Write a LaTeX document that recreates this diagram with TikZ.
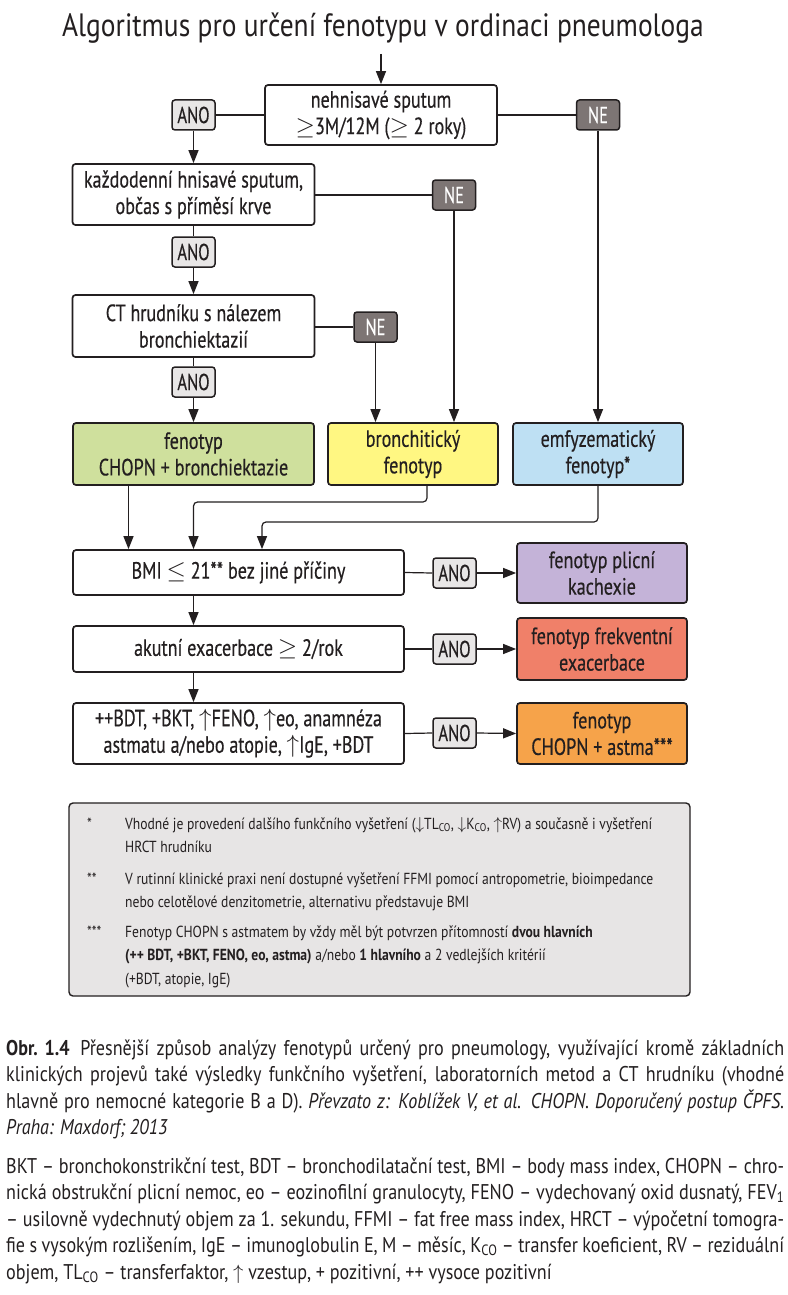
\documentclass[tikz,border=0pt]{standalone}
\usepackage{fontspec}
\setmainfont{PT Sans}[FakeStretch=0.85]
\newfontfamily\boxf{PT Sans}[FakeStretch=0.77,FakeBold=0.4]
\newfontfamily\labf{PT Sans}[FakeStretch=0.72,FakeBold=0.4]
\usetikzlibrary{arrows.meta,calc}
\definecolor{lc}{RGB}{35,31,32}
\definecolor{anof}{RGB}{232,230,230}
\definecolor{nef}{RGB}{125,117,116}
\definecolor{cgreen}{RGB}{207,224,157}
\definecolor{cyellow}{RGB}{255,247,130}
\definecolor{cblue}{RGB}{190,224,243}
\definecolor{cpurple}{RGB}{196,179,216}
\definecolor{csalmon}{RGB}{240,128,105}
\definecolor{corange}{RGB}{246,163,74}
\definecolor{notef}{RGB}{231,229,229}
\newcommand{\uar}{\smash{\ensuremath{\uparrow}}}
\newcommand{\dar}{\smash{\ensuremath{\downarrow}}}
\newcommand{\mge}{\smash{\ensuremath{\geq}}}
\newcommand{\mle}{\smash{\ensuremath{\leq}}}
\newcommand{\jline}[1]{\hbox to 778pt{#1}}
\begin{document}
\begin{tikzpicture}[x=1pt,y=-1pt,
  box/.style={draw=lc, line width=1.7pt, rounded corners=3pt, align=center, inner sep=0pt, text=lc,
    font=\boxf\fontsize{23.5}{26.5}\selectfont},
  ano/.style={draw=lc, line width=1.5pt, rounded corners=3pt, fill=anof, inner sep=0pt, text=lc,
    minimum width=43pt, minimum height=30pt, font=\labf\fontsize{23}{23}\selectfont},
  ne/.style={ano, fill=nef, text=white},
  arr/.style={-{Triangle[length=13pt,width=10pt]}, line width=1.2pt, draw=lc},
  ln/.style={line width=1.2pt, draw=lc},
  notetxt/.style={anchor=base west, inner sep=0pt, text=lc, font=\fontsize{16}{23.5}\selectfont},
  captxt/.style={anchor=base west, inner sep=0pt, text=lc, font=\fontsize{21.3}{26.5}\selectfont}
]
\useasboundingbox (0,0) rectangle (787,1295);
\fill[white] (0,0) rectangle (787,1295);

% title
\node[anchor=base, inner sep=0pt, text=lc, font=\fontsize{32.3}{32}\selectfont] (title) at (383,37)
  {Algoritmus pro určení fenotypu v ordinaci pneumologa};

% flow boxes
\node[box, minimum width=232pt, minimum height=60pt] (b1) at (381,115)
  {nehnisavé sputum\\\mge3M/12M (\mge{} 2 roky)};
\node[ano] (a1) at (193.5,115) {ANO};
\node[ne] (n1) at (598,115) {NE};

\node[box, minimum width=242pt, minimum height=61pt] (b2) at (193.5,194.5)
  {každodenní hnisavé sputum,\\občas s příměsí krve};
\node[ne] (n2) at (454,195) {NE};
\node[ano] (a2) at (193.5,252) {ANO};

\node[box, minimum width=242pt, minimum height=62pt] (b3) at (193.5,326)
  {CT hrudníku s nálezem\\bronchiektazií};
\node[ne] (n3) at (375.5,327) {NE};
\node[ano] (a3) at (193.5,382) {ANO};

\node[box, fill=cgreen, minimum width=241pt, minimum height=62pt] (pg) at (193.5,454)
  {fenotyp\\CHOPN + bronchiektazie};
\node[box, fill=cyellow, minimum width=170pt, minimum height=62pt] (py) at (413,454)
  {bronchitický\\fenotyp};
\node[box, fill=cblue, minimum width=170pt, minimum height=62pt] (pb) at (598,454)
  {emfyzematický\\fenotyp*};

\node[box, minimum width=331pt, minimum height=45pt] (bmi) at (238.5,572.5)
  {BMI \mle{} 21** bez jiné příčiny};
\node[ano] (a4) at (454.5,573) {ANO};
\node[box, fill=cpurple, minimum width=170pt, minimum height=60pt] (pp) at (602,573)
  {fenotyp plicní\\kachexie};

\node[box, minimum width=331pt, minimum height=46pt] (ak) at (238.5,649)
  {akutní exacerbace \mge{} 2/rok};
\node[ano] (a5) at (454.5,649) {ANO};
\node[box, fill=csalmon, minimum width=170pt, minimum height=62pt] (ps) at (602,649)
  {fenotyp frekventní\\exacerbace};

\node[box, minimum width=331pt, minimum height=61pt] (b7) at (238.5,733.5)
  {++BDT, +BKT, \uar FENO, \uar eo, anamnéza\\astmatu a/nebo atopie, \uar IgE, +BDT};
\node[ano] (a6) at (454.5,733) {ANO};
\node[box, fill=corange, minimum width=170pt, minimum height=61pt] (po) at (602,733.5)
  {fenotyp\\CHOPN + astma***};

% connectors
\coordinate (start) at (381,54);
\draw[arr] (start) -- (b1.north);
\draw[ln] (b1.west) -- (a1.east);
\draw[ln] (b1.east) -- (n1.west);
\draw[arr] (a1.south) -- (a1.south |- b2.north);
\draw[arr] (n1.south) -- (n1.south |- pb.north);

\draw[ln] (b2.south) -- (a2.north);
\draw[arr] (a2.south) -- (b3.north);
\draw[ln] (b2.east |- n2.west) -- (n2.west);
\draw[arr] (n2.south) -- (n2.south |- py.north);

\draw[ln] (b3.south) -- (a3.north);
\draw[arr] (a3.south) -- (pg.north);
\draw[ln] (b3.east |- n3.west) -- (n3.west);
\draw[arr] (n3.south) -- (n3.south |- py.north);

\coordinate (ya) at (193.5,502);
\coordinate (ba) at (262,522);
\draw[arr] ([xshift=-65pt]pg.south) -- ([xshift=-65pt]pg.south |- bmi.north);
\draw[arr, rounded corners=4pt] ([xshift=14pt]py.south) |- (ya) -- (ya |- bmi.north);
\draw[arr, rounded corners=4pt] (pb.south) |- (ba) -- (ba |- bmi.north);

\draw[ln] (bmi.east) -- (a4.west);
\draw[arr] (a4.east) -- (pp.west);
\draw[arr] ([xshift=-45pt]bmi.south) -- ([xshift=-45pt]ak.north);

\draw[ln] (ak.east) -- (a5.west);
\draw[arr] (a5.east) -- (ps.west);
\draw[arr] ([xshift=-45pt]ak.south) -- ([xshift=-45pt]b7.north);

\draw[ln] (b7.east) -- (a6.west);
\draw[arr] (a6.east) -- (po.west);

% notes box
\draw[draw=lc, fill=notef, line width=1.4pt, rounded corners=4pt] (69,803) rectangle (690,996);
\node[notetxt] (m1) at (87,829) {*};
\node[notetxt] (t1) at (125,829) {\vtop{\hbox{Vhodné je provedení dalšího funkčního vyšetření (\dar TL\textsubscript{CO}, \dar K\textsubscript{CO}, \uar RV) a současně i vyšetření}\hbox{HRCT hrudníku}}};
\node[notetxt] (m2) at (87,884) {**};
\node[notetxt] (t2) at (125,884) {\vtop{\hbox{V rutinní klinické praxi není dostupné vyšetření FFMI pomocí antropometrie, bioimpedance}\hbox{nebo celotělové denzitometrie, alternativu představuje BMI}}};
\node[notetxt] (m3) at (87,937) {***};
\node[notetxt] (t3) at (125,937) {\vtop{\hbox{Fenotyp CHOPN s astmatem by vždy měl být potvrzen přítomností \textbf{dvou hlavních}}\hbox{\textbf{(++ BDT, +BKT, FENO, eo, astma)} a/nebo \textbf{1 hlavního} a 2 vedlejších kritérií}\hbox{(+BDT, atopie, IgE)}}};

% caption
\node[captxt] (cap) at (6,1055) {\vtop{%
\jline{\textbf{Obr.~1.4}\enspace Přesnější způsob analýzy fenotypů určený pro pneumology, využívající kromě základních}
\jline{klinických projevů také výsledky funkčního vyšetření, laboratorních metod a CT hrudníku (vhodné}
\jline{hlavně pro nemocné kategorie B a D). \textit{Převzato z: Koblížek V, et al. CHOPN. Doporučený postup ČPFS.}}
\hbox{\textit{Praha: Maxdorf; 2013}}}};

% abbreviations
\node[captxt] (abbr) at (6,1173) {\vtop{%
\jline{BKT – bronchokonstrikční test, BDT – bronchodilatační test, BMI – body mass index, CHOPN – chro-}
\jline{nická obstrukční plicní nemoc, eo – eozinofilní granulocyty, FENO – vydechovaný oxid dusnatý, FEV\textsubscript{1}}
\jline{– usilovně vydechnutý objem za 1. sekundu, FFMI – fat free mass index, HRCT – výpočetní tomogra-}
\jline{fie s vysokým rozlišením, IgE – imunoglobulin E, M – měsíc, K\textsubscript{CO} – transfer koeficient, RV – reziduální}
\hbox{objem, TL\textsubscript{CO} – transferfaktor, \uar{} vzestup, + pozitivní, ++ vysoce pozitivní}}};
\end{tikzpicture}
\end{document}
